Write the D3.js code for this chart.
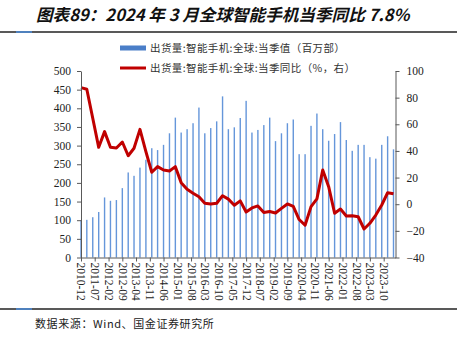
<!DOCTYPE html>
<html>
<head>
<meta charset="utf-8">
<script src="https://cdn.jsdelivr.net/npm/d3@7"></script>
<style>
  body { margin: 0; background: #fff; }
  svg { display: block; }
</style>
</head>
<body>
<div id="chart"></div>
<script>
// quarterly data, end month of each quarter
const quarters = [
  "2010-12","2011-03","2011-06","2011-09","2011-12","2012-03","2012-06","2012-09","2012-12",
  "2013-03","2013-06","2013-09","2013-12","2014-03","2014-06","2014-09","2014-12",
  "2015-03","2015-06","2015-09","2015-12","2016-03","2016-06","2016-09","2016-12",
  "2017-03","2017-06","2017-09","2017-12","2018-03","2018-06","2018-09","2018-12",
  "2019-03","2019-06","2019-09","2019-12","2020-03","2020-06","2020-09","2020-12",
  "2021-03","2021-06","2021-09","2021-12","2022-03","2022-06","2022-09","2022-12",
  "2023-03","2023-06","2023-09","2023-12","2024-03"
];

// 出货量 当季值 (百万部)
const shipments = [
  100, 101, 108, 122, 161, 152, 154, 186, 228,
  219, 241, 262, 293, 288, 302, 333, 375,
  335, 344, 360, 402, 333, 347, 365, 432,
  344, 349, 374, 420, 335, 342, 355, 375,
  312, 333, 360, 370, 277, 277, 353, 386,
  344, 313, 331, 363, 315, 286, 302, 302,
  269, 265, 302, 325, 290
];

// 当季同比 (%)
const yoy = [
  87.5, 86.3, 64.5, 42.7, 54.5, 42.7, 42.2, 46.7, 36.4,
  42, 56.2, 39.4, 24, 28.2, 25.7, 25, 28.2,
  16.2, 11.2, 8.2, 5.6, 0.7, 0.2, 0.7, 6.4,
  3.8, -0.8, 2.5, -5.8, -2.8, -1.3, -6.2, -5.5,
  -6.6, -3.1, 0.2, -1.7, -11.5, -15.8, -1.8, 4,
  25.7, 13.2, -6.8, -3.6, -8.8, -8.6, -9.4, -18.6,
  -14.3, -8.1, -0.6, 8.6, 7.8
];

const xTickLabels = [
  "2010-12","2011-07","2012-02","2012-09","2013-04","2013-11","2014-06","2015-01",
  "2015-08","2016-03","2016-10","2017-05","2017-12","2018-07","2019-02","2019-09",
  "2020-04","2020-11","2021-06","2022-01","2022-08","2023-03","2023-10"
];
const leftTicks = [0, 50, 100, 150, 200, 250, 300, 350, 400, 450, 500];
const rightTicks = [-40, -20, 0, 20, 40, 60, 80, 100];

const titleText = "图表89：2024 年 3 月全球智能手机当季同比 7.8%";
const legendLabels = ["出货量:智能手机:全球:当季值（百万部）", "出货量:智能手机:全球:当季同比（%，右）"];
const sourceText = "数据来源：Wind、国金证券研究所";

const width = 460, height = 343;
const plot = { left: 81, right: 395.5, top: 71, bottom: 257.5 };

const parseMonth = d3.timeParse("%Y-%m");
const data = quarters.map((q, i) => ({ date: parseMonth(q), value: shipments[i], yoy: yoy[i] }));

const svg = d3.select("#chart").append("svg")
  .attr("width", width)
  .attr("height", height);

// x axis is a date axis in months
const x = d3.scaleTime()
  .domain([parseMonth("2010-12"), parseMonth("2024-04")])
  .range([plot.left, plot.right]);

const yLeft = d3.scaleLinear().domain([0, 500]).range([plot.bottom, plot.top]);
const yRight = d3.scaleLinear().domain([-40, 100]).range([plot.bottom, plot.top]);

// title and divider lines
svg.append("text")
  .attr("x", 36).attr("y", 21)
  .attr("font-family", "'Noto Sans CJK SC', sans-serif")
  .attr("font-size", 16.6)
  .attr("font-weight", "bold")
  .attr("font-style", "italic")
  .attr("fill", "#111")
  .text(titleText);

[32, 309].forEach(yy => {
  svg.append("line")
    .attr("x1", 0).attr("x2", 457).attr("y1", yy).attr("y2", yy)
    .attr("stroke", "#595959").attr("stroke-width", 2);
  svg.append("line")
    .attr("x1", 16).attr("x2", 32).attr("y1", yy).attr("y2", yy)
    .attr("stroke", "#4F81BD").attr("stroke-width", 2);
});

// bars
svg.append("g").selectAll("rect")
  .data(data)
  .join("rect")
  .attr("x", d => x(d.date) - 0.7)
  .attr("width", 1.4)
  .attr("y", d => yLeft(d.value))
  .attr("height", d => yLeft(0) - yLeft(d.value))
  .attr("fill", "#6596DA");

// yoy line
const line = d3.line()
  .x(d => x(d.date))
  .y(d => yRight(d.yoy));

svg.append("path")
  .datum(data)
  .attr("d", line)
  .attr("fill", "none")
  .attr("stroke", "#C00000")
  .attr("stroke-width", 3)
  .attr("stroke-linejoin", "round");

// axes
const tickFont = "'Liberation Serif', 'Times New Roman', serif";

const leftAxis = svg.append("g")
  .attr("transform", `translate(${plot.left},0)`)
  .call(d3.axisLeft(yLeft).tickValues(leftTicks).tickSize(4).tickPadding(6).tickSizeOuter(0));

const rightAxis = svg.append("g")
  .attr("transform", `translate(${plot.right},0)`)
  .call(d3.axisRight(yRight).tickValues(rightTicks).tickSize(4).tickPadding(7).tickSizeOuter(0));

const bottomAxis = svg.append("g")
  .attr("transform", `translate(0,${plot.bottom})`)
  .call(d3.axisBottom(x)
    .tickValues(xTickLabels.map(parseMonth))
    .tickFormat(d3.timeFormat("%Y-%m"))
    .tickSize(4).tickSizeOuter(0));

[leftAxis, rightAxis, bottomAxis].forEach(g => {
  g.select(".domain").attr("stroke", "#595959");
  g.selectAll(".tick line").attr("stroke", "#595959");
  g.selectAll("text")
    .attr("font-family", tickFont)
    .attr("font-size", 11.5)
    .attr("fill", "#222");
});

bottomAxis.selectAll("text")
  .attr("text-anchor", "start")
  .attr("transform", "rotate(90)")
  .attr("x", 5)
  .attr("y", 0)
  .attr("dy", "0.35em");

// legend
const legend = svg.append("g").attr("transform", "translate(120,48)");
legend.append("rect")
  .attr("x", 0).attr("y", -2.5).attr("width", 26).attr("height", 5)
  .attr("fill", "#4A7EC8");
legend.append("line")
  .attr("x1", 0).attr("x2", 26).attr("y1", 20).attr("y2", 20)
  .attr("stroke", "#C00000").attr("stroke-width", 3);
legend.selectAll("text")
  .data(legendLabels)
  .join("text")
  .attr("x", 30)
  .attr("y", (d, i) => i * 20)
  .attr("dy", "0.35em")
  .attr("font-family", "'Noto Sans CJK SC', sans-serif")
  .attr("font-size", 10.5)
  .attr("letter-spacing", 0.4)
  .attr("fill", "#333")
  .text(d => d);

// source note
svg.append("text")
  .attr("x", 35).attr("y", 328)
  .attr("font-family", "'Noto Sans CJK SC', sans-serif")
  .attr("font-size", 11)
  .attr("letter-spacing", 0.6)
  .attr("fill", "#222")
  .text(sourceText);
</script>
</body>
</html>
